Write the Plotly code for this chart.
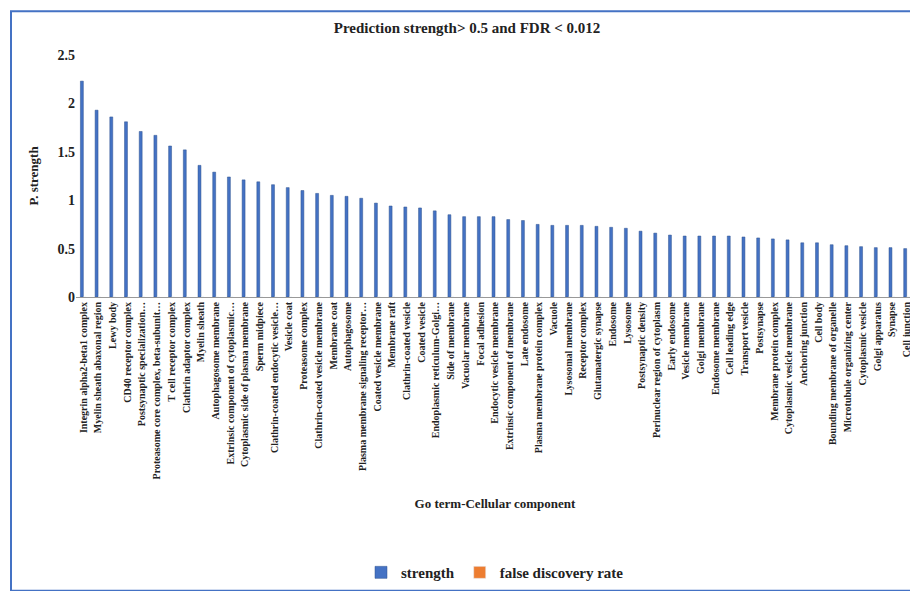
import plotly.graph_objects as go

# Go terms (cellular component) and their strength values
terms = [
    "Integrin alpha2-beta1 complex", "Myelin sheath abaxonal region", "Lewy body",
    "CD40 receptor complex", "Postsynaptic specialization…",
    "Proteasome core complex, beta-subunit…", "T cell receptor complex",
    "Clathrin adaptor complex", "Myelin sheath", "Autophagosome membrane",
    "Extrinsic component of cytoplasmic…", "Cytoplasmic side of plasma membrane",
    "Sperm midpiece", "Clathrin-coated endocytic vesicle…", "Vesicle coat",
    "Proteasome complex", "Clathrin-coated vesicle membrane", "Membrane coat",
    "Autophagosome", "Plasma membrane signaling receptor…", "Coated vesicle membrane",
    "Membrane raft", "Clathrin-coated vesicle", "Coated vesicle",
    "Endoplasmic reticulum-Golgi…", "Side of membrane", "Vacuolar membrane",
    "Focal adhesion", "Endocytic vesicle membrane", "Extrinsic component of membrane",
    "Late endosome", "Plasma membrane protein complex", "Vacuole",
    "Lysosomal membrane", "Receptor complex", "Glutamatergic synapse", "Endosome",
    "Lysosome", "Postsynaptic density", "Perinuclear region of cytoplasm",
    "Early endosome", "Vesicle membrane", "Golgi membrane", "Endosome membrane",
    "Cell leading edge", "Transport vesicle", "Postsynapse",
    "Membrane protein complex", "Cytoplasmic vesicle membrane", "Anchoring junction",
    "Cell body", "Bounding membrane of organelle", "Microtubule organizing center",
    "Cytoplasmic vesicle", "Golgi apparatus", "Synapse", "Cell junction",
]
strength = [
    2.23, 1.93, 1.86, 1.81, 1.71, 1.67, 1.56, 1.52, 1.36, 1.29,
    1.24, 1.21, 1.19, 1.16, 1.13, 1.10, 1.07, 1.05, 1.04, 1.02,
    0.97, 0.94, 0.93, 0.92, 0.89, 0.85, 0.83, 0.83, 0.83, 0.80,
    0.79, 0.75, 0.74, 0.74, 0.74, 0.73, 0.72, 0.71, 0.68, 0.66,
    0.64, 0.63, 0.63, 0.63, 0.63, 0.62, 0.61, 0.60, 0.59, 0.56,
    0.56, 0.54, 0.53, 0.52, 0.51, 0.51, 0.50,
]
# FDR values are too small to be visible in the chart
fdr = [0] * len(terms)

font = "Liberation Serif, Times New Roman, serif"

fig = go.Figure()
fig.add_trace(go.Bar(x=terms, y=strength, name="strength",
                     marker=dict(color="#4472C4", line=dict(color="#2F528F", width=0.5))))
fig.add_trace(go.Bar(x=terms, y=fdr, name="false discovery rate",
                     marker=dict(color="#ED7D31")))

L, R, T, B, W, H = 68, 12, 47, 301, 918, 591
pw, ph = W - L - R, H - T - B
fig.add_shape(type="rect", xref="paper", yref="paper",
              x0=(3 - L) / pw, x1=(W - 7 - L) / pw,
              y0=(T + ph - (H - 6)) / ph, y1=(T + ph - 3) / ph,
              line=dict(color="#4472C4", width=2))

bold = dict(family=font, weight="bold", color="#222")

fig.update_layout(
    width=W, height=H,
    margin=dict(l=L, r=R, t=T, b=B),
    plot_bgcolor="white", paper_bgcolor="white",
    font=dict(family=font, color="#333", size=13),
    title=dict(text="<b>Prediction strength> 0.5 and FDR < 0.012</b>",
               x=0.5, y=0.975, font=dict(size=15, color="#222")),
    bargap=0.6, barmode="group", bargroupgap=0,
    legend=dict(orientation="h", x=0.5, xanchor="center", y=-1.13, yanchor="middle",
                font=dict(size=15, **bold)),
    xaxis=dict(tickangle=-90, tickfont=dict(size=10, **bold),
               showline=True, linecolor="#999", ticks="",
               title=dict(text="<b>Go term-Cellular component</b>", standoff=20,
                          font=dict(size=13, color="#222"))),
    yaxis=dict(range=[0, 2.5], dtick=0.5, showgrid=False, showline=False,
               tickformat="~g", tickfont=dict(size=14, **bold),
               title=dict(text="<b>P. strength</b>", font=dict(size=13, color="#222"))),
)

fig.write_html("out.html")
